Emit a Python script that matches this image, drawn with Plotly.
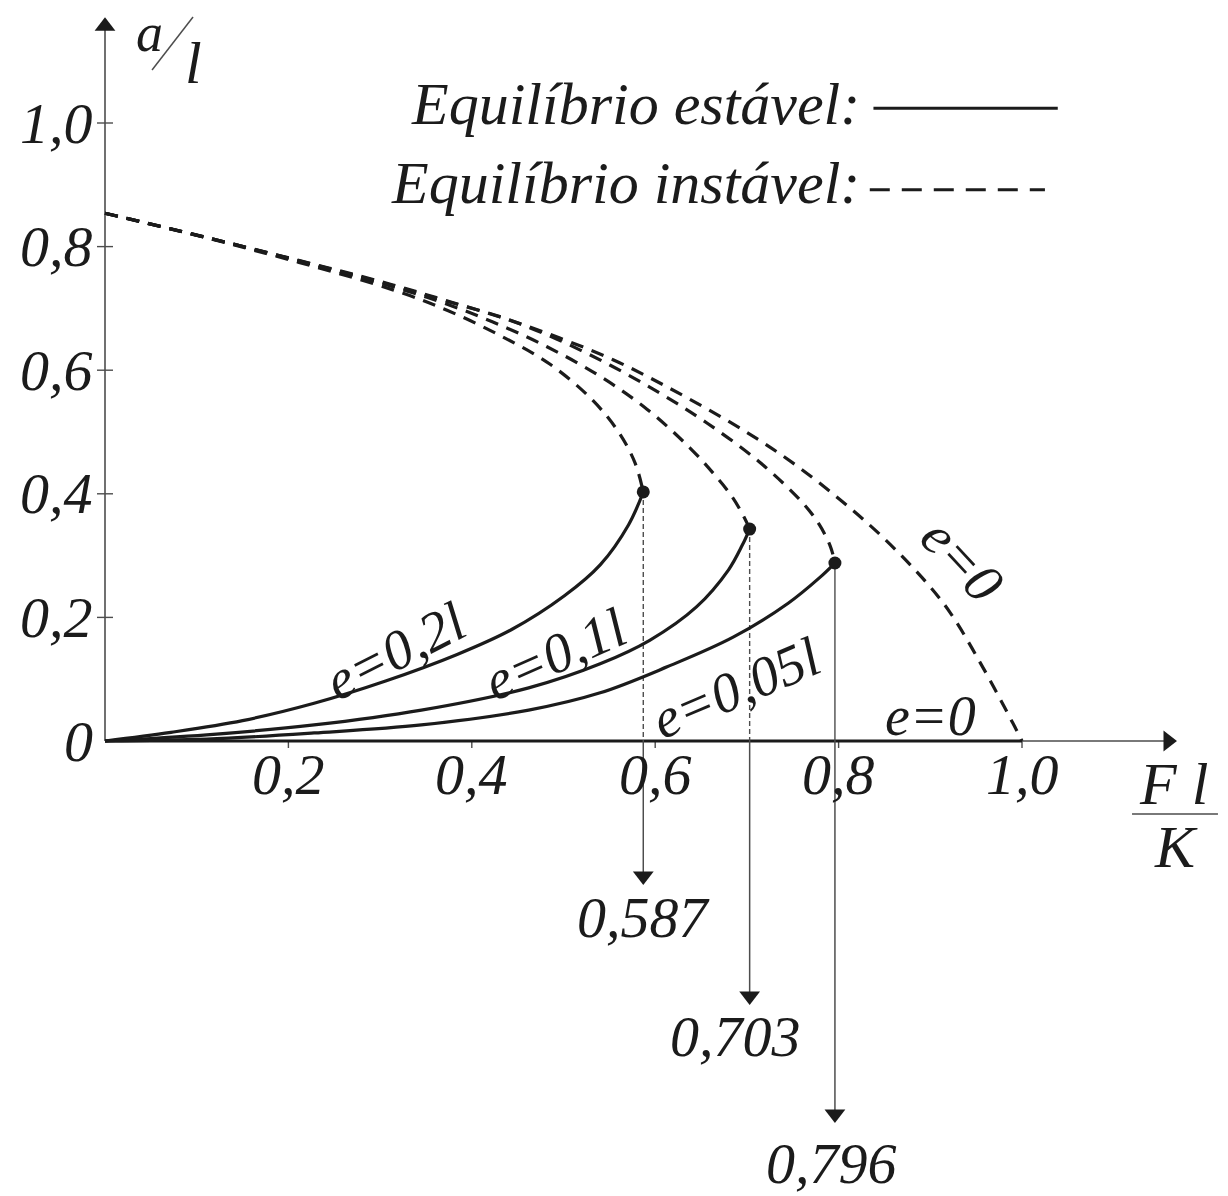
import plotly.graph_objects as go

# ---------------- data: F l / K (x) against a / l (y) ----------------
ecc_labels = ["e=0,2l", "e=0,1l", "e=0,05l"]
limit_load = [0.587, 0.703, 0.796]      # F l / K at the limit point
limit_disp = [0.403, 0.343, 0.288]      # a / l at the limit point
limit_text = ["0,587", "0,703", "0,796"]

# stable branches (origin up to the limit point, limit point appended below)
stable_x = [
    [0.0, 0.072, 0.150, 0.228, 0.306, 0.384, 0.443, 0.501, 0.540, 0.571],
    [0.0, 0.111, 0.228, 0.345, 0.462, 0.540, 0.594, 0.645, 0.680, 0.695],
    [0.0, 0.111, 0.228, 0.345, 0.462, 0.540, 0.613, 0.685, 0.745, 0.779],
]
stable_y = [
    [0.0, 0.014, 0.033, 0.061, 0.097, 0.140, 0.180, 0.235, 0.285, 0.350],
    [0.0, 0.010, 0.026, 0.050, 0.086, 0.125, 0.163, 0.217, 0.277, 0.317],
    [0.0, 0.003, 0.013, 0.026, 0.050, 0.078, 0.120, 0.168, 0.223, 0.264],
]

# unstable branches (from a/l = 0.854 at F = 0 down to the limit point)
unstable_x = [
    [0.0, 0.140, 0.314, 0.373, 0.431, 0.485, 0.532, 0.560, 0.578],
    [0.0, 0.140, 0.314, 0.369, 0.423, 0.482, 0.540, 0.591, 0.638, 0.664,
     0.684, 0.697],
    [0.0, 0.140, 0.314, 0.369, 0.434, 0.493, 0.551, 0.605, 0.656, 0.714,
     0.761, 0.779, 0.791],
]
unstable_y = [
    [0.854, 0.803, 0.730, 0.697, 0.656, 0.610, 0.551, 0.500, 0.450],
    [0.854, 0.804, 0.735, 0.709, 0.678, 0.638, 0.590, 0.537, 0.474, 0.432,
     0.395, 0.362],
    [0.854, 0.804, 0.737, 0.713, 0.685, 0.650, 0.608, 0.563, 0.515, 0.451,
     0.385, 0.350, 0.315],
]

# perfect system (e = 0): unstable post-critical branch
perfect_x = [0.0, 0.140, 0.245, 0.314, 0.369, 0.431, 0.496, 0.554, 0.613,
             0.696, 0.750, 0.802, 0.848, 0.896, 0.922, 0.957, 0.990, 1.0]
perfect_y = [0.854, 0.804, 0.765, 0.738, 0.714, 0.686, 0.652, 0.617, 0.573,
             0.503, 0.450, 0.390, 0.330, 0.256, 0.207, 0.120, 0.029, 0.0]
critical_load = 1.0

x_ticks = [0.2, 0.4, 0.6, 0.8, 1.0]
x_tick_text = ["0,2", "0,4", "0,6", "0,8", "1,0"]
y_ticks = [0.0, 0.2, 0.4, 0.6, 0.8, 1.0]
y_tick_text = ["0", "0,2", "0,4", "0,6", "0,8", "1,0"]

# ---------------- drawing constants ----------------
PX_X, PX_Y = 917.0, 618.0          # pixels per unit
ORIGIN_PX = (105.0, 741.0)
W, H = 1228, 1196
X_END, Y_END = 1.169, 1.171         # arrow tips of the axes
guide_tip_y = [-0.233, -0.427, -0.618]
value_label_y = [-0.285, -0.478, -0.683]
value_label_dx = [0, -14, -3]

FONT = "Liberation Serif"
INK = "#1b1b1b"
AXIS = "#4d4d4d"
CURVE_W = 3.2
DASH = "13px,9px"

fig = go.Figure()


def seg(x, y, color=INK, width=CURVE_W, dash="solid", shape="linear"):
    line = dict(color=color, width=width, dash=dash, shape=shape)
    if shape == "spline":
        line["smoothing"] = 1.0
    fig.add_trace(go.Scatter(x=x, y=y, mode="lines", hoverinfo="skip",
                             line=line))


def head(x, y, symbol, size=18):
    fig.add_trace(go.Scatter(x=[x], y=[y], mode="markers", hoverinfo="skip",
                             marker=dict(symbol=symbol, size=size, color=INK,
                                         line=dict(width=0))))


# axes with arrow heads
seg([0, 0], [0, Y_END - 0.014], color=AXIS, width=1.6)
seg([critical_load, X_END - 0.012], [0, 0], color=AXIS, width=1.6)
head(0, Y_END - 9 / PX_Y, "triangle-up")
head(X_END - 9 / PX_X, 0, "triangle-right")

# tick marks
tx, ty = [], []
for v in y_ticks[1:]:
    tx += [-8 / PX_X, 8 / PX_X, None]
    ty += [v, v, None]
seg(tx, ty, color=AXIS, width=1.4)
tx, ty = [], []
for v in x_ticks:
    tx += [v, v, None]
    ty += [0, -7 / PX_Y, None]
seg(tx, ty, color=AXIS, width=1.4)

# e = 0 stable branch lies on the load axis
seg([0, critical_load], [0, 0], color=INK, width=CURVE_W)
# e = 0 unstable branch
seg(perfect_x, perfect_y, dash=DASH, shape="spline")

for i in range(3):
    lx, ly = limit_load[i], limit_disp[i]
    # projection of the limit point onto the load axis, then down to its value
    seg([lx, lx], [ly, 0], color=AXIS, width=1.4,
        dash="solid" if i == 2 else "5px,3px")
    seg([lx, lx], [0, guide_tip_y[i] + 0.016], color=AXIS, width=1.5)
    head(lx, guide_tip_y[i] + 9 / PX_Y, "triangle-down")
    # branches
    seg(unstable_x[i] + [lx], unstable_y[i] + [ly], dash=DASH, shape="spline")
    seg(stable_x[i] + [lx], stable_y[i] + [ly], shape="spline")

fig.add_trace(go.Scatter(x=limit_load, y=limit_disp, mode="markers",
                         hoverinfo="skip",
                         marker=dict(size=13, color=INK)))

# legend lines
seg([0.838, 1.039], [1.024, 1.024], width=3)
seg([0.834, 1.025], [0.892, 0.892], width=3, dash="20px,12px")

ann = []


def text(x, y, s, size=58, xanchor="center", yanchor="middle", angle=0,
         xshift=0, yshift=0):
    ann.append(dict(x=x, y=y, xref="x", yref="y", text=s, showarrow=False,
                    xanchor=xanchor, yanchor=yanchor, textangle=angle,
                    xshift=xshift, yshift=yshift,
                    font=dict(family=FONT, size=size, color=INK,
                              style="italic")))


for v, s in zip(y_ticks, y_tick_text):
    text(0, v, s, xanchor="right", xshift=-10)
for v, s in zip(x_ticks, x_tick_text):
    text(v, 0, s, yshift=-33)
for i in range(3):
    text(limit_load[i], value_label_y[i], limit_text[i], size=58,
         xshift=value_label_dx[i])

# curve labels
text(0.316, 0.146, ecc_labels[0], size=56, angle=-27)
text(0.491, 0.140, ecc_labels[1], size=56, angle=-24)
text(0.688, 0.085, ecc_labels[2], size=56, angle=-23)
text(0.935, 0.293, "e=0", size=56, angle=47)
text(0.900, 0.040, "e=0", size=56)

# legend text
text(0.8255, 1.030, "Equilíbrio estável:", size=60, xanchor="right")
text(0.8255, 0.903, "Equilíbrio instável:", size=60, xanchor="right")

# axis titles
text(0.049, 1.146, "a", size=54)
text(0.096, 1.097, "l", size=60)
seg([0.0513, 0.096], [1.0858, 1.1715], color=AXIS, width=1.5)
text(1.1647, -0.0696, "F l", size=60)
seg([1.120, 1.2137], [-0.118, -0.118], color=AXIS, width=1.5)
text(1.168, -0.1715, "K", size=60)

x0 = -ORIGIN_PX[0] / PX_X
x1 = (W - ORIGIN_PX[0]) / PX_X
y1 = ORIGIN_PX[1] / PX_Y
y0 = -(H - ORIGIN_PX[1]) / PX_Y

fig.update_layout(
    width=W, height=H, margin=dict(l=0, r=0, t=0, b=0),
    paper_bgcolor="white", plot_bgcolor="white", showlegend=False,
    xaxis=dict(range=[x0, x1], visible=False, fixedrange=True),
    yaxis=dict(range=[y0, y1], visible=False, fixedrange=True),
    annotations=ann,
)

fig.write_html("out.html")
